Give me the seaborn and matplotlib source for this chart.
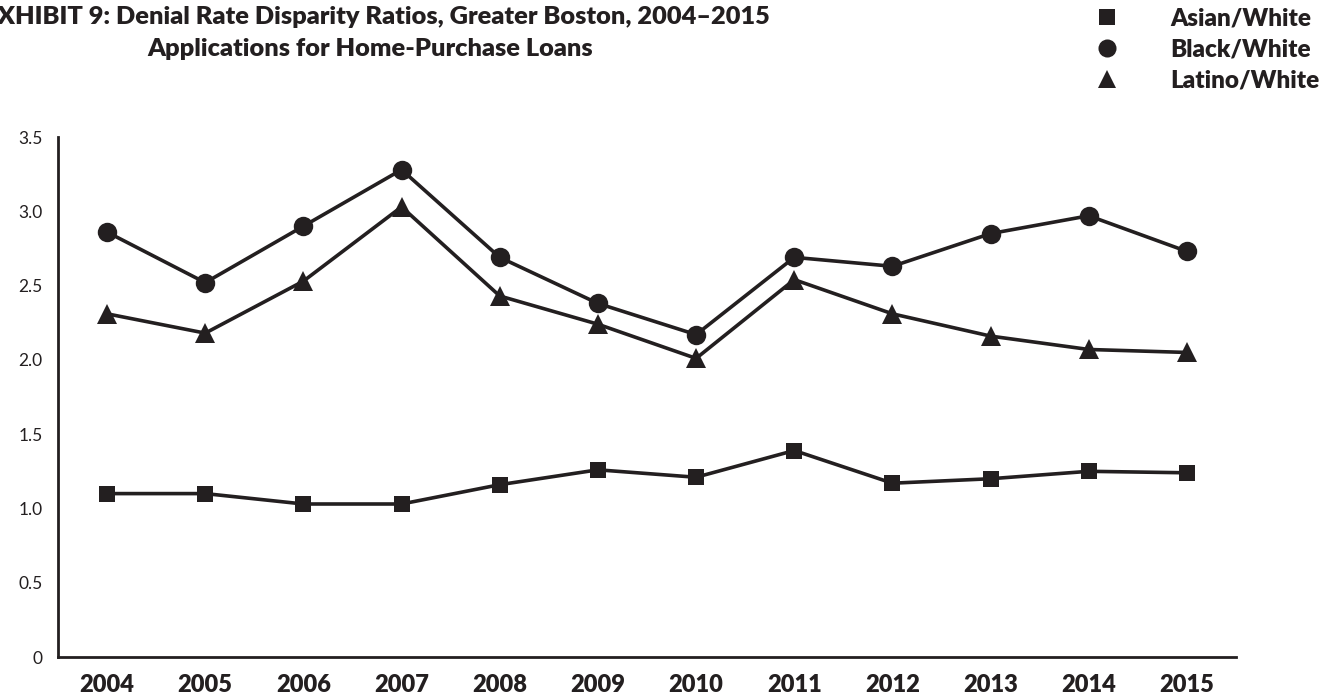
import numpy as np
import pandas as pd
import matplotlib
matplotlib.use("Agg")
import matplotlib.pyplot as plt
from matplotlib.lines import Line2D
from matplotlib.ticker import FixedLocator, FuncFormatter
import seaborn as sns

years = [2004, 2005, 2006, 2007, 2008, 2009, 2010, 2011, 2012, 2013, 2014, 2015]
asian_white = [1.10, 1.10, 1.03, 1.03, 1.16, 1.26, 1.21, 1.39, 1.17, 1.20, 1.25, 1.24]
black_white = [2.86, 2.52, 2.90, 3.28, 2.69, 2.38, 2.17, 2.69, 2.63, 2.85, 2.97, 2.73]
latino_white = [2.31, 2.18, 2.53, 3.03, 2.43, 2.24, 2.01, 2.54, 2.31, 2.16, 2.07, 2.05]
series_names = ["Asian/White", "Black/White", "Latino/White"]

ink = "#231f20"

df = pd.DataFrame({
    "year": years * 3,
    "ratio": asian_white + black_white + latino_white,
    "group": sum([[n] * len(years) for n in series_names], []),
})

sns.set_style("white")
plt.rcParams["font.family"] = ["Lato", "DejaVu Sans"]

fig = plt.figure(figsize=(13.39, 6.98), dpi=100)
ax = fig.add_axes([0.0433, 0.0587, 0.8798, 0.745])

markers = {"Asian/White": "s", "Black/White": "o", "Latino/White": "^"}
sizes = {"Asian/White": 12, "Black/White": 14, "Latino/White": 14}
for name in series_names:
    sub = df[df["group"] == name]
    sns.lineplot(data=sub, x="year", y="ratio", ax=ax, color=ink, lw=2.6,
                 marker=markers[name], markersize=sizes[name],
                 markeredgewidth=0, markerfacecolor=ink, legend=False)

ax.set_xlim(2003.5, 2015.5)
ax.set_ylim(0, 3.5)
ax.set_xlabel("")
ax.set_ylabel("")

for s in ["top", "right"]:
    ax.spines[s].set_visible(False)
for s in ["left", "bottom"]:
    ax.spines[s].set_linewidth(2.0)
    ax.spines[s].set_color(ink)

ax.set_xticks(years)
ax.set_xticklabels([str(y) for y in years], fontsize=17, fontweight="heavy", color=ink)
ax.xaxis.set_minor_locator(FixedLocator([y + 0.5 for y in years]))
ax.tick_params(axis="x", which="major", length=0, pad=12)
ax.tick_params(axis="x", which="minor", length=11, width=2, color=ink, direction="out")

ax.set_yticks(np.arange(0, 3.51, 0.5))
ax.yaxis.set_major_formatter(FuncFormatter(lambda v, p: "0" if v == 0 else f"{v:.1f}"))
ax.tick_params(axis="y", length=10, width=2, color=ink, direction="out", pad=1,
               labelsize=12.5, labelcolor=ink)

fig.text(-0.0125, 0.975, "EXHIBIT 9: Denial Rate Disparity Ratios, Greater Boston, 2004\u20132015",
         fontsize=18.3, fontweight="heavy", color=ink, va="center", ha="left")
fig.text(0.110, 0.930, "Applications for Home-Purchase Loans",
         fontsize=18.3, fontweight="heavy", color=ink, va="center", ha="left")

handles = [Line2D([], [], linestyle="none", marker=markers[n], markersize=sizes[n] - 1,
                  markerfacecolor=ink, markeredgewidth=0) for n in series_names]
leg = fig.legend(handles, series_names, loc="upper left", bbox_to_anchor=(0.792, 1.021),
                 frameon=False, handletextpad=1.6, labelspacing=0.38,
                 prop={"size": 17.5, "weight": "heavy"})
for t in leg.get_texts():
    t.set_color(ink)

fig.savefig("out.png", dpi=100)
